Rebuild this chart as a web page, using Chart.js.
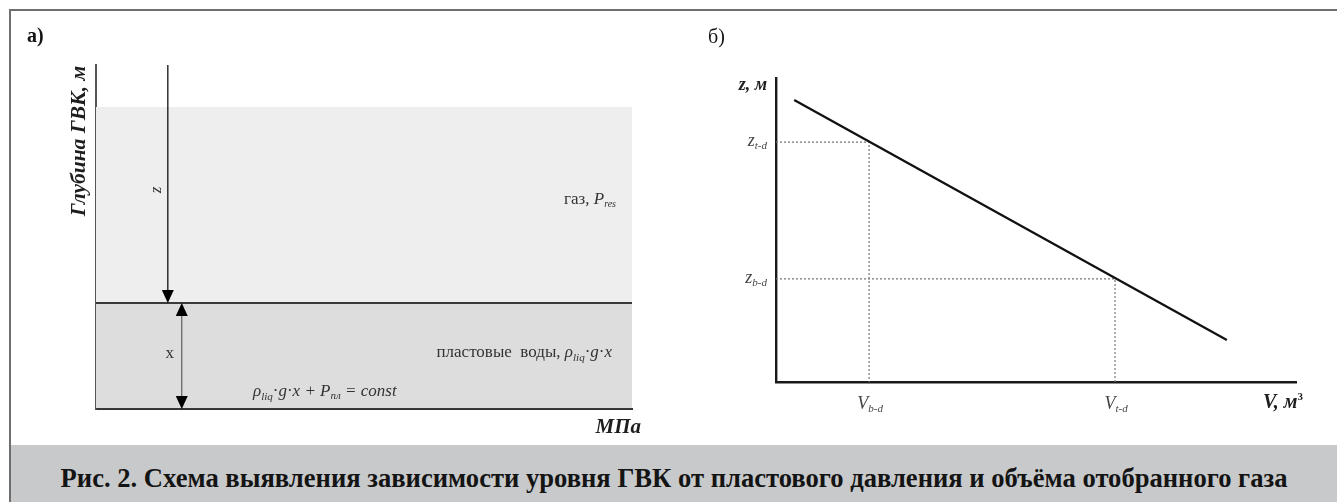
<!DOCTYPE html>
<html><head><meta charset="utf-8">
<script src="https://cdn.jsdelivr.net/npm/chart.js@4.4.1/dist/chart.umd.min.js"></script>
<style>
html,body{margin:0;padding:0;background:#fff;width:1337px;height:502px;overflow:hidden}
#frame{position:absolute;left:9px;top:9px;width:1328px;height:493px;border-left:2px solid #6e6e6e;border-top:2px solid #6e6e6e;box-sizing:border-box}
canvas{position:absolute;top:0}
#band{position:absolute;left:11px;top:445px;width:1326px;height:57px;background:#c8c9cb}
#cap{position:absolute;left:0;top:21px;width:100%;text-align:center;font:bold 26.6px "Liberation Serif";line-height:25px;color:#141414;white-space:nowrap}
</style></head>
<body>
<div id="frame"></div>
<canvas id="left" width="660" height="502" style="left:0"></canvas>
<canvas id="right" width="677" height="502" style="left:660px"></canvas>
<div id="band"><div id="cap">Рис. 2. Схема выявления зависимости уровня ГВК от пластового давления и объёма отобранного газа</div></div>
<script>
// ---------- data: panel а) (pressure vs depth, arbitrary units) ----------
const pressureRange = [0, 10];
const depthRange = [0, 10];
const layerNames = ['газ', 'пластовые  воды'];
const layerTopDepth = [1.22, 6.92];
const layerBottomDepth = [6.92, 10];
const zArrowPressure = 1.34;
const zArrowDepth = [0, 6.92];
const xArrowPressure = 1.6;
const xArrowDepth = [6.92, 10];

// ---------- data: panel б) (volume vs level) ----------
const volumeRange = [0, 10];
const levelRange = [0, 10];
const lineVolume = [0.35, 8.67];
const lineLevel = [9.28, 1.38];
const markVolume = [1.79, 6.52];
const markLevel = [7.89, 3.39];
const markVolumeLabels = ['b-d', 't-d'];
const markLevelLabels = ['t-d', 'b-d'];

const F = '"Liberation Serif"';
function rich(ctx, parts, x, y, align, color) {
  let w = 0;
  parts.forEach(p => { ctx.font = p[1]; w += ctx.measureText(p[0]).width; });
  let cx = align === 'right' ? x - w : align === 'center' ? x - w / 2 : x;
  ctx.fillStyle = color; ctx.textBaseline = 'alphabetic'; ctx.textAlign = 'left';
  parts.forEach(p => { ctx.font = p[1]; ctx.fillText(p[0], cx, y + (p[2] || 0)); cx += ctx.measureText(p[0]).width; });
}
function head(ctx, x, yTip, dir) {
  ctx.beginPath();
  ctx.moveTo(x, yTip);
  ctx.lineTo(x - 6, yTip - dir * 13);
  ctx.lineTo(x + 6, yTip - dir * 13);
  ctx.closePath();
  ctx.fillStyle = '#000';
  ctx.fill();
}
const zeroFit = s => { if (s.isHorizontal()) s.height = 0; else s.width = 0; };

// ---------- chart а) ----------
const leftPlugin = {
  id: 'leftDeco',
  afterDatasetsDraw(chart) {
    const ctx = chart.ctx, xs = chart.scales.x, ys = chart.scales.y, ca = chart.chartArea;
    ctx.save();
    head(ctx, xs.getPixelForValue(zArrowPressure), ys.getPixelForValue(zArrowDepth[1]), 1);
    head(ctx, xs.getPixelForValue(xArrowPressure), ys.getPixelForValue(xArrowDepth[0]), -1);
    head(ctx, xs.getPixelForValue(xArrowPressure), ys.getPixelForValue(xArrowDepth[1]), 1);
    // z label (rotated)
    ctx.save();
    ctx.translate(xs.getPixelForValue(zArrowPressure) - 11, 190);
    ctx.rotate(-Math.PI / 2);
    ctx.font = 'italic 17px ' + F; ctx.fillStyle = '#333'; ctx.textAlign = 'center'; ctx.textBaseline = 'middle';
    ctx.fillText('z', 0, 0);
    ctx.restore();
    // x label
    rich(ctx, [['x', '17px ' + F]], xs.getPixelForValue(xArrowPressure) - 12, 358, 'center', '#333');
    // layer labels
    rich(ctx, [[layerNames[0] + ', ', '17px ' + F], ['P', 'italic 17px ' + F], ['res', 'italic 10px ' + F, 3]], ca.right - 16, 204, 'right', '#333');
    rich(ctx, [[layerNames[1] + ', ', '17px ' + F], ['ρ', 'italic 17px ' + F], ['liq', 'italic 11px ' + F, 4], ['·', '17px ' + F], ['g', 'italic 17px ' + F], ['·', '17px ' + F], ['x', 'italic 17px ' + F]], ca.right - 20, 357, 'right', '#333');
    rich(ctx, [['ρ', 'italic 17px ' + F], ['liq', 'italic 11px ' + F, 4], ['·', '17px ' + F], ['g', 'italic 17px ' + F], ['·', '17px ' + F], ['x + P', 'italic 17px ' + F], ['пл', 'italic 11px ' + F, 3], [' = const', 'italic 17px ' + F]], 253, 396, 'left', '#333');
    // axis titles
    rich(ctx, [['МПа', 'bold italic 21px ' + F]], ca.right + 9, 433, 'right', '#1e1e1e');
    ctx.save();
    ctx.translate(79, 141);
    ctx.rotate(-Math.PI / 2);
    ctx.font = 'bold italic 21.5px ' + F; ctx.fillStyle = '#1e1e1e'; ctx.textAlign = 'center'; ctx.textBaseline = 'middle';
    ctx.fillText('Глубина ГВК, м', 0, 0);
    ctx.restore();
    rich(ctx, [['а)', 'bold 20px ' + F]], 27, 42, 'left', '#141414');
    ctx.restore();
  }
};

new Chart(document.getElementById('left'), {
  type: 'scatter',
  data: {
    datasets: [
      { label: layerNames[0], order: 2, data: [{x: pressureRange[0], y: layerBottomDepth[0]}, {x: pressureRange[1], y: layerBottomDepth[0]}],
        showLine: true, fill: {value: layerTopDepth[0]}, backgroundColor: '#eeeeee', borderColor: '#3a3a3a', borderWidth: 2, pointRadius: 0 },
      { label: layerNames[1], order: 3, data: [{x: pressureRange[0], y: layerBottomDepth[1]}, {x: pressureRange[1], y: layerBottomDepth[1]}],
        showLine: true, fill: {value: layerTopDepth[1]}, backgroundColor: '#dddddd', borderColor: '#3a3a3a', borderWidth: 2, pointRadius: 0 },
      { label: 'z', order: 0, data: [{x: zArrowPressure, y: zArrowDepth[0]}, {x: zArrowPressure, y: zArrowDepth[1] - 0.2}],
        showLine: true, fill: false, borderColor: '#111', borderWidth: 1.3, pointRadius: 0 },
      { label: 'x', order: 0, data: [{x: xArrowPressure, y: xArrowDepth[0] + 0.2}, {x: xArrowPressure, y: xArrowDepth[1] - 0.2}],
        showLine: true, fill: false, borderColor: '#555', borderWidth: 1.1, pointRadius: 0 }
    ]
  },
  options: {
    responsive: false, animation: false, events: [],
    layout: { padding: { left: 96, right: 28, top: 65, bottom: 93 } },
    plugins: { legend: { display: false }, tooltip: { enabled: false } },
    scales: {
      x: { type: 'linear', min: pressureRange[0], max: pressureRange[1], position: 'bottom',
           ticks: { display: false }, grid: { display: false, drawTicks: false },
           border: { display: true, color: '#333', width: 2 }, afterFit: zeroFit },
      y: { type: 'linear', min: depthRange[0], max: depthRange[1], reverse: true, position: 'left',
           ticks: { display: false }, grid: { display: false, drawTicks: false },
           border: { display: true, color: '#555', width: 2 }, afterFit: zeroFit }
    }
  },
  plugins: [leftPlugin]
});

// ---------- chart б) ----------
const rightPlugin = {
  id: 'rightDeco',
  afterDatasetsDraw(chart) {
    const ctx = chart.ctx, xs = chart.scales.x, ys = chart.scales.y, ca = chart.chartArea;
    ctx.save();
    markVolume.forEach((v, i) => {
      rich(ctx, [['V', 'italic 18px ' + F], [markVolumeLabels[i], 'italic 11px ' + F, 3]], xs.getPixelForValue(v) + 1, ca.bottom + 27, 'center', '#444');
    });
    markLevel.forEach((z, i) => {
      rich(ctx, [['z', 'italic 18px ' + F], [markLevelLabels[i], 'italic 11px ' + F, 3]], ca.left - 9, ys.getPixelForValue(z) + 4, 'right', '#444');
    });
    rich(ctx, [['z, м', 'bold italic 18px ' + F]], ca.left - 9, 90, 'right', '#1e1e1e');
    rich(ctx, [['V, м', 'bold italic 20px ' + F], ['3', 'bold 11px ' + F, -8]], ca.right + 7, 408, 'right', '#1e1e1e');
    rich(ctx, [['б)', '20px ' + F]], 48, 43, 'left', '#141414');
    ctx.restore();
  }
};

new Chart(document.getElementById('right'), {
  type: 'scatter',
  data: {
    datasets: [
      { label: 'z(V)', data: [{x: lineVolume[0], y: lineLevel[0]}, {x: lineVolume[1], y: lineLevel[1]}],
        showLine: true, borderColor: '#111', borderWidth: 2.3, pointRadius: 0 },
      ...markVolume.map((v, i) => ({
        label: 'mark' + i,
        data: [{x: volumeRange[0], y: markLevel[i]}, {x: v, y: markLevel[i]}, {x: v, y: levelRange[0]}],
        showLine: true, borderColor: '#777', borderWidth: 1.2, borderDash: [2, 2], pointRadius: 0
      }))
    ]
  },
  options: {
    responsive: false, animation: false, events: [],
    layout: { padding: { left: 116, right: 41, top: 78, bottom: 120 } },
    plugins: { legend: { display: false }, tooltip: { enabled: false } },
    scales: {
      x: { type: 'linear', min: volumeRange[0], max: volumeRange[1], position: 'bottom',
           ticks: { display: false }, grid: { display: false, drawTicks: false },
           border: { display: true, color: '#1a1a1a', width: 2.4 }, afterFit: zeroFit },
      y: { type: 'linear', min: levelRange[0], max: levelRange[1], position: 'left',
           ticks: { display: false }, grid: { display: false, drawTicks: false },
           border: { display: true, color: '#1a1a1a', width: 2.4 }, afterFit: zeroFit }
    }
  },
  plugins: [rightPlugin]
});
</script>
</body></html>
